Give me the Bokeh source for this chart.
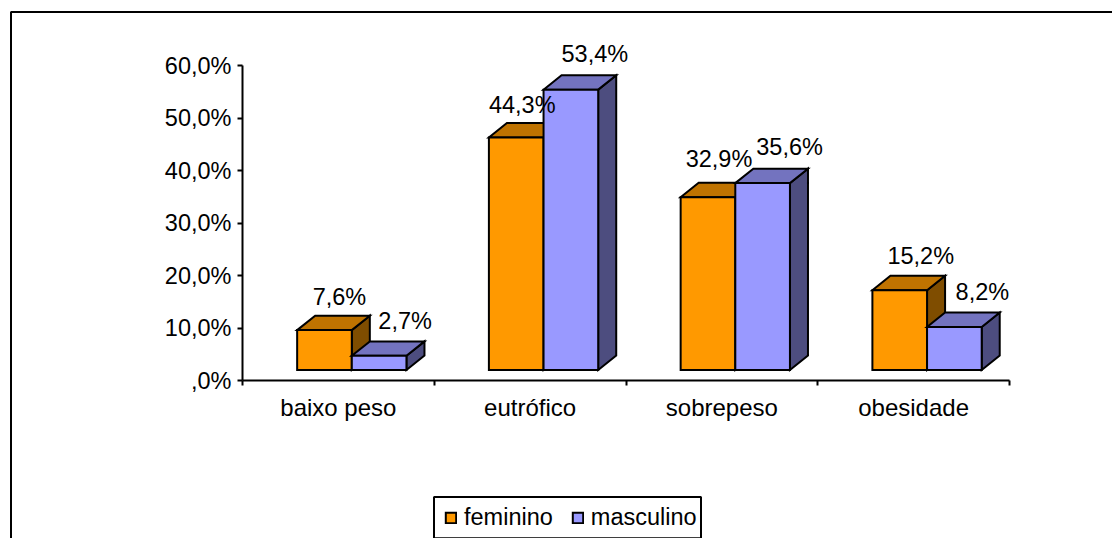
from bokeh.embed import file_html
from bokeh.resources import INLINE
from bokeh.plotting import figure
from bokeh.models import (ColumnDataSource, FixedTicker, Legend, LegendItem,
                          Range1d)
from bokeh.core.properties import value

categories = ["baixo peso", "eutrófico", "sobrepeso", "obesidade"]
feminino = [7.6, 44.3, 32.9, 15.2]
masculino = [2.7, 53.4, 35.6, 8.2]
y_ticks = [0, 10, 20, 30, 40, 50, 60]
y_tick_labels = [",0%", "10,0%", "20,0%", "30,0%", "40,0%", "50,0%", "60,0%"]

FONT = "Liberation Sans"
FONT_SIZE = "23.5px"

WIDTH, HEIGHT = 1112, 538

# Where the axes sit on the page, in pixels
AXIS_LEFT, AXIS_RIGHT = 242, 1009
AXIS_TOP, AXIS_BOTTOM = 65, 380
X_SCALE = (AXIS_RIGHT - AXIS_LEFT) / 4
Y_SCALE = (AXIS_BOTTOM - AXIS_TOP) / 60

# Pseudo-3D geometry, in axis units
BAR_START = 0.285
BAR_WIDTH = 0.285
FLOOR = 2.0
DEPTH_X = 0.094
DEPTH_Y = 2.75

# Label nudges in pixels, one per bar
fem_dx, fem_dy = [15, 6, 11, 21], [19, 18, 24, 20]
mas_dx, mas_dy = [26, 24, 27, 28], [20, 21, 22, 21]


def px_x(px):
    return (px - AXIS_LEFT) / X_SCALE


def px_y(px):
    return (AXIS_BOTTOM - px) / Y_SCALE


def fmt(v):
    return f"{v:.1f}%".replace(".", ",")


def box_faces(left, val):
    """Front, top and side polygons of one extruded bar."""
    right = left + BAR_WIDTH
    top = val + FLOOR
    front = ([left, right, right, left], [FLOOR, FLOOR, top, top])
    cap = ([left, right, right + DEPTH_X, left + DEPTH_X],
           [top, top, top + DEPTH_Y, top + DEPTH_Y])
    side = ([right, right + DEPTH_X, right + DEPTH_X, right],
            [FLOOR, FLOOR + DEPTH_Y, top + DEPTH_Y, top])
    return front, cap, side


# The plotting frame fills the page; the axes are pinned at their data origin
p = figure(width=WIDTH, height=HEIGHT, output_backend="svg", toolbar_location=None,
           x_range=Range1d(px_x(0), px_x(WIDTH)),
           y_range=Range1d(px_y(HEIGHT), px_y(0)),
           min_border=0, outline_line_color=None, background_fill_color="white")
p.grid.visible = False

p.xaxis.fixed_location = 0
p.yaxis.fixed_location = 0
p.xaxis.bounds = (0, 4)
p.yaxis.bounds = (0, 60)

p.xaxis.ticker = FixedTicker(ticks=[i + 0.5 for i in range(len(categories))],
                             minor_ticks=list(range(len(categories) + 1)))
p.xaxis.major_label_overrides = {i + 0.5: c for i, c in enumerate(categories)}
p.xaxis.major_tick_in = 0
p.xaxis.major_tick_out = 0
p.xaxis.minor_tick_in = 0
p.xaxis.minor_tick_out = 5
p.xaxis.minor_tick_line_color = "black"
p.xaxis.minor_tick_line_width = 2
p.xaxis.major_label_standoff = 8

p.yaxis.ticker = FixedTicker(ticks=y_ticks)
p.yaxis.major_label_overrides = dict(zip(y_ticks, y_tick_labels))
p.yaxis.major_tick_in = 0
p.yaxis.major_tick_out = 5
p.yaxis.major_tick_line_color = "black"
p.yaxis.major_tick_line_width = 2
p.yaxis.minor_tick_line_color = None
p.yaxis.major_label_standoff = 6

for ax in (p.xaxis, p.yaxis):
    ax.axis_line_color = "black"
    ax.axis_line_width = 2
    ax.major_label_text_font = FONT
    ax.major_label_text_font_size = FONT_SIZE
    ax.major_label_text_color = "black"
p.xaxis.major_label_text_font_size = "24px"

# Chart border: only the top and left edges fall on the page
p.line([px_x(10.5), px_x(10.5), px_x(WIDTH + 20)],
       [px_y(HEIGHT + 20), px_y(11.5), px_y(11.5)],
       line_color="black", line_width=2)

# Legend box, whose lower edge lands on the page's last row
p.line([px_x(433.5), px_x(433.5), px_x(700.5), px_x(700.5), px_x(433.5)],
       [px_y(537.7), px_y(496.5), px_y(496.5), px_y(537.7), px_y(537.7)],
       line_color="black", line_width=2)


def draw_series(values, offset, colors):
    fronts, caps, sides = [], [], []
    for i, v in enumerate(values):
        f, c, s = box_faces(i + BAR_START + offset, v)
        fronts.append(f)
        caps.append(c)
        sides.append(s)
    renderers = []
    for faces, color in zip((sides, caps, fronts), colors):
        renderers.append(p.patches([a for a, _ in faces], [b for _, b in faces],
                                   fill_color=color, line_color="black",
                                   line_width=2, line_join="miter"))
    return renderers[-1]


r_fem = draw_series(feminino, 0, ("#7F4D00", "#BF7300", "#FF9900"))
r_mas = draw_series(masculino, BAR_WIDTH, ("#4D4D7F", "#7373BF", "#9999FF"))


def draw_labels(values, offset, dx, dy):
    src = ColumnDataSource(dict(
        x=[i + BAR_START + offset + BAR_WIDTH / 2 for i in range(len(values))],
        y=[v + FLOOR + DEPTH_Y for v in values],
        t=[fmt(v) for v in values],
        dx=dx,
        dy=[-d for d in dy],
    ))
    p.text("x", "y", text="t", source=src, x_offset="dx", y_offset="dy",
           text_align="center", text_baseline="alphabetic", text_color="black",
           text_font=value(FONT), text_font_size=value(FONT_SIZE))


draw_labels(feminino, 0, fem_dx, fem_dy)
draw_labels(masculino, BAR_WIDTH, mas_dx, mas_dy)

legend = Legend(items=[LegendItem(label="feminino", renderers=[r_fem]),
                       LegendItem(label="masculino", renderers=[r_mas])],
                orientation="horizontal", location=(444, 7),
                border_line_color=None, background_fill_alpha=0,
                label_text_font=FONT, label_text_font_size=FONT_SIZE,
                label_text_color="black", label_standoff=7,
                glyph_width=13, glyph_height=13, spacing=18,
                padding=9, margin=0)
p.add_layout(legend, "center")

open("out.html", "w").write(file_html(p, INLINE))
